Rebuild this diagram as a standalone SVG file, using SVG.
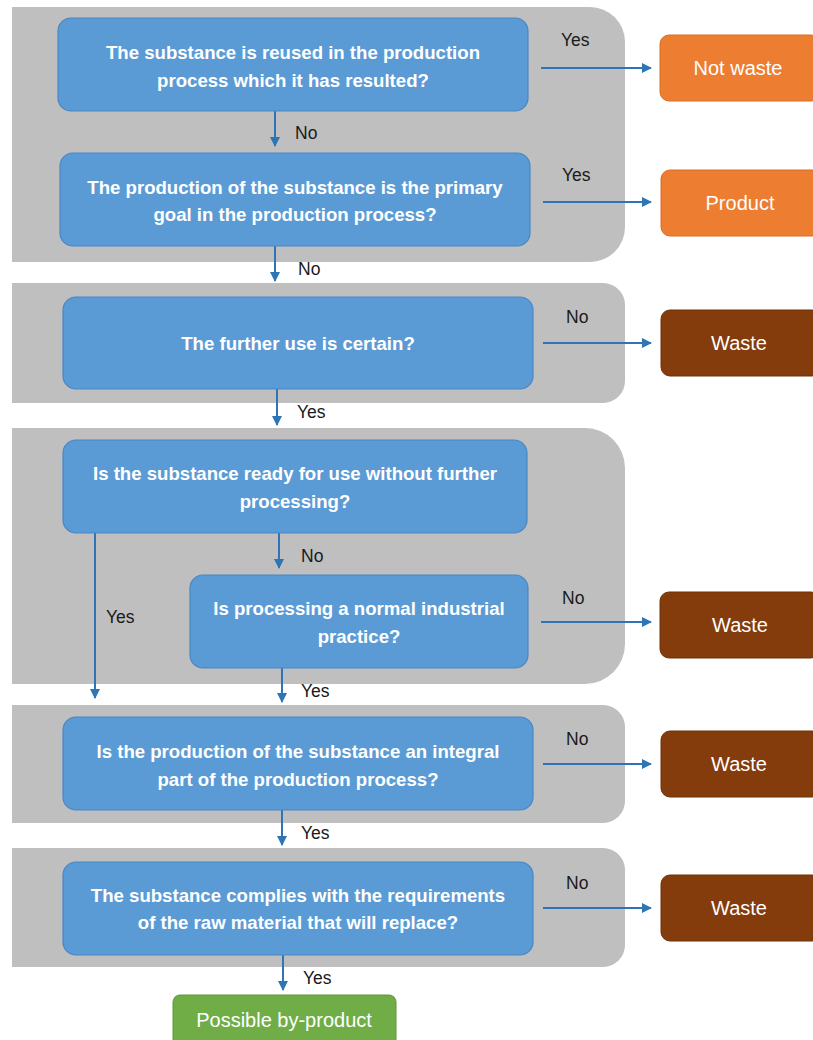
<svg xmlns="http://www.w3.org/2000/svg" width="813" height="1040" viewBox="0 0 813 1040">
<defs>
<style>
.panel{fill:#BFBFBF}
.q{fill:#5B9BD5;stroke:#4A86C5;stroke-width:1.2}
.qt{font-family:"Liberation Sans",Arial,sans-serif;font-weight:bold;font-size:18.6px;fill:#FFFFFF;text-anchor:middle}
.lbl{font-family:"Liberation Sans",Arial,sans-serif;font-size:17.5px;fill:#1a1a1a}
.ot{font-family:"Liberation Sans",Arial,sans-serif;font-size:20px;fill:#FFFFFF;text-anchor:middle}
.orange{fill:#ED7D31;stroke:#D86E25;stroke-width:1}
.brown{fill:#843C0C;stroke:#6E3009;stroke-width:1}
.green{fill:#70AD47;stroke:#5E9838;stroke-width:1}
.c{stroke:#2E75B6;stroke-width:2;fill:none;marker-end:url(#ah)}
</style>
<marker id="ah" markerWidth="10" markerHeight="10" refX="9" refY="5" orient="auto" markerUnits="userSpaceOnUse">
<path d="M0,0 L10,5 L0,10 z" fill="#2E75B6"/>
</marker>
</defs>
<rect width="813" height="1040" fill="#FFFFFF"/>
<g id="panels">
<path class="panel" d="M12,7 H590 A35,35 0 0 1 625,42 V227 A35,35 0 0 1 590,262 H12 Z"/>
<path class="panel" d="M12,283 H603 A22,22 0 0 1 625,305 V381 A22,22 0 0 1 603,403 H12 Z"/>
<path class="panel" d="M12,428 H585 A40,40 0 0 1 625,468 V644 A40,40 0 0 1 585,684 H12 Z"/>
<path class="panel" d="M12,705 H603 A22,22 0 0 1 625,727 V801 A22,22 0 0 1 603,823 H12 Z"/>
<path class="panel" d="M12,848 H603 A22,22 0 0 1 625,870 V945 A22,22 0 0 1 603,967 H12 Z"/>
</g>
<g id="connectors">
<line class="c" x1="541" y1="68" x2="651" y2="68"/>
<text class="lbl" x="561" y="46">Yes</text>
<line class="c" x1="275" y1="111" x2="275" y2="146"/>
<text class="lbl" x="295" y="139">No</text>
<line class="c" x1="543" y1="202" x2="651" y2="202"/>
<text class="lbl" x="562" y="181">Yes</text>
<line class="c" x1="275" y1="246" x2="275" y2="281"/>
<text class="lbl" x="298" y="275">No</text>
<line class="c" x1="543" y1="343" x2="651" y2="343"/>
<text class="lbl" x="566" y="323">No</text>
<line class="c" x1="277" y1="389" x2="277" y2="425"/>
<text class="lbl" x="297" y="418">Yes</text>
<line class="c" x1="279" y1="533" x2="279" y2="568"/>
<text class="lbl" x="301" y="562">No</text>
<line class="c" x1="95" y1="533" x2="95" y2="698"/>
<text class="lbl" x="106" y="623">Yes</text>
<line class="c" x1="541" y1="622" x2="651" y2="622"/>
<text class="lbl" x="562" y="604">No</text>
<line class="c" x1="282" y1="668" x2="282" y2="702"/>
<text class="lbl" x="301" y="697">Yes</text>
<line class="c" x1="543" y1="764" x2="651" y2="764"/>
<text class="lbl" x="566" y="745">No</text>
<line class="c" x1="282" y1="810" x2="282" y2="845"/>
<text class="lbl" x="301" y="839">Yes</text>
<line class="c" x1="543" y1="908" x2="651" y2="908"/>
<text class="lbl" x="566" y="889">No</text>
<line class="c" x1="283" y1="955" x2="283" y2="990"/>
<text class="lbl" x="303" y="984">Yes</text>
</g>
<g id="q1">
<rect class="q" x="58" y="18" width="470" height="93" rx="13"/>
<text class="qt" x="293" y="59">The substance is reused in the production</text>
<text class="qt" x="293" y="87">process which it has resulted?</text>
</g>
<g id="q2">
<rect class="q" x="60" y="153" width="470" height="93" rx="13"/>
<text class="qt" x="295" y="194">The production of the substance is the primary</text>
<text class="qt" x="295" y="221">goal in the production process?</text>
</g>
<g id="q3">
<rect class="q" x="63" y="297" width="470" height="92" rx="13"/>
<text class="qt" x="298" y="350">The further use is certain?</text>
</g>
<g id="q4">
<rect class="q" x="63" y="440" width="464" height="93" rx="13"/>
<text class="qt" x="295" y="480">Is the substance ready for use without further</text>
<text class="qt" x="295" y="508">processing?</text>
</g>
<g id="q5">
<rect class="q" x="190" y="575" width="338" height="93" rx="13"/>
<text class="qt" x="359" y="615">Is processing a normal industrial</text>
<text class="qt" x="359" y="643">practice?</text>
</g>
<g id="q6">
<rect class="q" x="63" y="717" width="470" height="93" rx="13"/>
<text class="qt" x="298" y="758">Is the production of the substance an integral</text>
<text class="qt" x="298" y="786">part of the production process?</text>
</g>
<g id="q7">
<rect class="q" x="63" y="862" width="470" height="93" rx="13"/>
<text class="qt" x="298" y="902">The substance complies with the requirements</text>
<text class="qt" x="298" y="929">of the raw material that will replace?</text>
</g>
<g id="notwaste">
<rect class="orange" x="660" y="35" width="160" height="66" rx="9"/>
<text class="ot" x="738" y="75">Not waste</text>
</g>
<g id="product">
<rect class="orange" x="661" y="170" width="160" height="66" rx="9"/>
<text class="ot" x="740" y="210">Product</text>
</g>
<g id="waste1">
<rect class="brown" x="661" y="310" width="160" height="66" rx="9"/>
<text class="ot" x="739" y="350">Waste</text>
</g>
<g id="waste2">
<rect class="brown" x="660" y="592" width="160" height="66" rx="9"/>
<text class="ot" x="740" y="632">Waste</text>
</g>
<g id="waste3">
<rect class="brown" x="661" y="731" width="160" height="66" rx="9"/>
<text class="ot" x="739" y="771">Waste</text>
</g>
<g id="waste4">
<rect class="brown" x="661" y="875" width="160" height="66" rx="9"/>
<text class="ot" x="739" y="915">Waste</text>
</g>
<g id="byproduct">
<rect class="green" x="173" y="995" width="223" height="60" rx="7"/>
<text class="ot" x="284" y="1027">Possible by-product</text>
</g>
</svg>
